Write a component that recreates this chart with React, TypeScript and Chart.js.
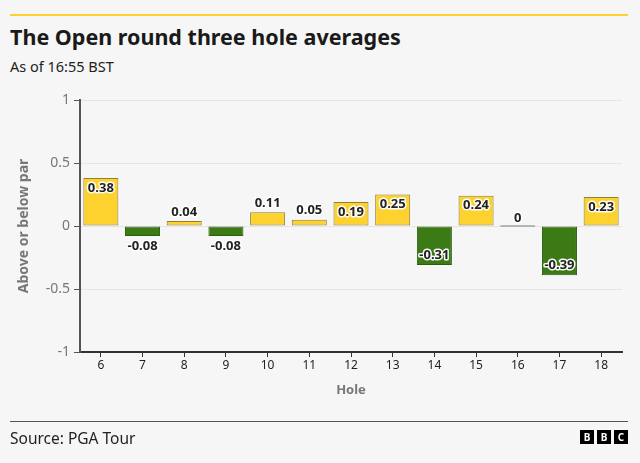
import React, { useEffect, useRef } from "react";
import { Chart, registerables } from "chart.js";

Chart.register(...registerables);

const holes = ["6", "7", "8", "9", "10", "11", "12", "13", "14", "15", "16", "17", "18"];
const averages = [0.38, -0.08, 0.04, -0.08, 0.11, 0.05, 0.19, 0.25, -0.31, 0.24, 0, -0.39, 0.23];
const yTicks = [1, 0.5, 0, -0.5, -1];

const FONT = "'Noto Sans', sans-serif";
const YELLOW = "#fdd22f";
const YELLOW_BORDER = "#8d7f3c";
const GREEN = "#3b7a15";
const GREEN_BORDER = "#2d5c10";
const ZERO = "#888888";

const labelPlugin = {
  id: "valueLabels",
  afterDatasetsDraw(chart: any) {
    const { ctx } = chart;
    const meta = chart.getDatasetMeta(0);
    const yScale = chart.scales.y;
    ctx.save();
    ctx.font = `bold 13px ${FONT}`;
    ctx.textAlign = "center";
    ctx.textBaseline = "middle";
    ctx.lineJoin = "round";
    meta.data.forEach((bar: any, i: number) => {
      const v = averages[i];
      const zeroY = yScale.getPixelForValue(0);
      const endY = yScale.getPixelForValue(v);
      let y: number;
      if (v > 0) {
        y = v >= 0.15 ? endY + 10 : endY - 9;
      } else if (v < 0) {
        y = v <= -0.15 ? endY - 10 : endY + 10;
      } else {
        y = zeroY - 8;
      }
      const text = String(v);
      ctx.strokeStyle = "rgba(255,255,255,0.95)";
      ctx.lineWidth = 3;
      ctx.strokeText(text, bar.x, y);
      ctx.fillStyle = "#222222";
      ctx.fillText(text, bar.x, y);
    });
    ctx.restore();
  },
};

export default function App() {
  const ref = useRef<HTMLCanvasElement>(null);

  useEffect(() => {
    document.body.style.margin = "0";
    const canvas = ref.current;
    if (!canvas) return;
    const chart = new Chart(canvas, {
      type: "bar",
      data: {
        labels: holes,
        datasets: [
          {
            data: averages,
            backgroundColor: averages.map((v) => (v > 0 ? YELLOW : v < 0 ? GREEN : ZERO)),
            borderColor: averages.map((v) => (v > 0 ? YELLOW_BORDER : v < 0 ? GREEN_BORDER : ZERO)),
            borderWidth: 1,
            borderSkipped: false,
            minBarLength: 1.5,
            categoryPercentage: 1,
            barPercentage: 0.84,
          },
        ],
      },
      options: {
        responsive: false,
        animation: false,
        maintainAspectRatio: false,
        events: [],
        layout: { padding: { top: 100, right: 18, bottom: 60, left: 0 } },
        plugins: { legend: { display: false }, tooltip: { enabled: false } },
        scales: {
          x: {
            grid: {
              display: true,
              drawOnChartArea: false,
              drawTicks: true,
              tickLength: 5,
              tickColor: "#333333",
              offset: false,
            },
            border: { color: "#333333", width: 2 },
            ticks: { color: "#222222", font: { family: FONT, size: 12 }, padding: 1, maxRotation: 0 },
            title: {
              display: true,
              text: "Hole",
              color: "#777777",
              font: { family: FONT, size: 13, weight: "bold" },
              padding: { top: 0, bottom: 5 },
            },
            afterFit(scale: any) {
              scale.height = 51;
            },
          },
          y: {
            min: -1,
            max: 1,
            afterBuildTicks(scale: any) {
              scale.ticks = yTicks.map((v) => ({ value: v }));
            },
            grid: {
              color: "#e6e6e6",
              lineWidth: 1,
              drawTicks: true,
              tickLength: 6,
              tickColor: "#555555",
            },
            border: { color: "#555555", width: 2 },
            ticks: {
              color: "#777777",
              font: { family: FONT, size: 14 },
              padding: 4,
              callback: (v: any) => String(v),
            },
            title: {
              display: true,
              text: "Above or below par",
              color: "#777777",
              font: { family: FONT, size: 14, weight: "bold" },
              padding: { top: 16, bottom: 0 },
            },
            afterFit(scale: any) {
              scale.width = 80;
            },
          },
        },
      },
      plugins: [labelPlugin],
    });
    return () => chart.destroy();
  }, []);

  const sq: React.CSSProperties = {
    width: 14,
    height: 14,
    background: "#000",
    color: "#fff",
    fontFamily: FONT,
    fontWeight: 700,
    fontSize: 10,
    lineHeight: "14px",
    textAlign: "center",
    display: "inline-block",
    marginLeft: 3,
  };

  return (
    <div
      style={{
        position: "relative",
        width: 640,
        height: 463,
        background: "#f6f6f6",
        fontFamily: FONT,
        overflow: "hidden",
      }}
    >
      <div style={{ position: "absolute", left: 10, top: 14, width: 618, height: 2, background: "#fdd22f" }} />
      <div
        style={{
          position: "absolute",
          left: 10,
          top: 22,
          fontSize: 21.5,
          fontWeight: 700,
          color: "#1a1a1a",
          letterSpacing: 0,
          whiteSpace: "nowrap",
        }}
      >
        The Open round three hole averages
      </div>
      <div style={{ position: "absolute", left: 10, top: 56, fontSize: 14.5, color: "#222" }}>As of 16:55 BST</div>
      <canvas ref={ref} width={640} height={463} style={{ position: "absolute", left: 0, top: 0 }} />
      <div style={{ position: "absolute", left: 10, top: 421, width: 618, height: 1, background: "#555" }} />
      <div style={{ position: "absolute", left: 10, top: 427, fontSize: 15.5, color: "#222" }}>Source: PGA Tour</div>
      <div style={{ position: "absolute", left: 577, top: 430, display: "flex" }}>
        <span style={sq}>B</span>
        <span style={sq}>B</span>
        <span style={sq}>C</span>
      </div>
    </div>
  );
}
